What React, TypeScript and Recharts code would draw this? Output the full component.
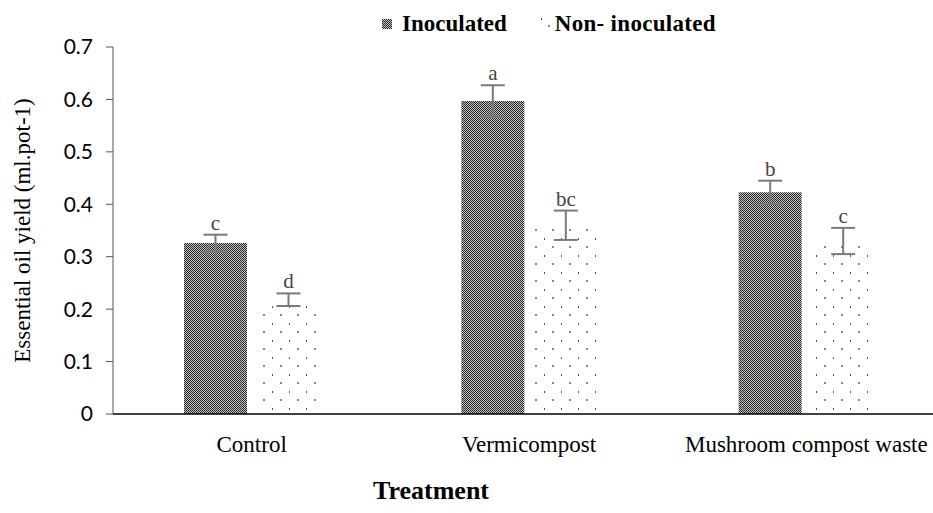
import { BarChart, Bar, XAxis, YAxis, ErrorBar, LabelList } from "recharts"

const categories = ["Control", "Vermicompost", "Mushroom compost waste"]
const inoculated = [0.326, 0.597, 0.423]
const nonInoculated = [0.218, 0.36, 0.33]
const inoculatedErr = [0.016, 0.03, 0.022]
const nonInoculatedErr = [0.012, 0.028, 0.025]
const inoculatedLetters = ["c", "a", "b"]
const nonInoculatedLetters = ["d", "bc", "c"]
const yTicks = [0, 0.1, 0.2, 0.3, 0.4, 0.5, 0.6, 0.7]

const data = categories.map((name, i) => ({
  name,
  inoc: inoculated[i],
  inocErr: inoculatedErr[i],
  inocLetter: inoculatedLetters[i],
  non: nonInoculated[i],
  nonErr: nonInoculatedErr[i],
  nonLetter: nonInoculatedLetters[i],
}))

const serif = "'Liberation Serif', 'Times New Roman', serif"
const sans = "'Lato', 'Open Sans', sans-serif"

// letter above the error bar
function letterLabel(errs: number[], values: number[]) {
  return (props: any) => {
    const { x, y, width, height, value, index } = props
    const errPx = (errs[index] / values[index]) * height
    return (
      <text x={x + width / 2} y={y - errPx - 5} textAnchor="middle" fontFamily={serif} fontSize={21} fill="#444">
        {value}
      </text>
    )
  }
}

function Patterns() {
  return (
    <defs>
      <pattern id="checker" width="2" height="2" patternUnits="userSpaceOnUse">
        <rect width="2" height="2" fill="#c4c4c4" />
        <rect x="0" y="0" width="1" height="1" fill="#262626" />
        <rect x="1" y="1" width="1" height="1" fill="#262626" />
      </pattern>
      <pattern id="dots" width="17" height="17" patternUnits="userSpaceOnUse">
        <rect width="17" height="17" fill="#ffffff" />
        <rect x="8" y="8" width="2" height="2" fill="#8a8a8a" />
        <rect x="0" y="0" width="1" height="2" fill="#555" />
      </pattern>
    </defs>
  )
}

export default function App() {
  return (
    <div style={{ position: "absolute", left: 0, top: 0, width: 933, height: 513, overflow: "hidden", background: "#fff" }}>
      <BarChart
        width={950}
        height={513}
        data={data}
        margin={{ top: 47, right: 5, left: 0, bottom: 39 }}
        barSize={63}
        barGap={10}
      >
        <Patterns />
        <XAxis
          dataKey="name"
          height={60}
          tickLine={false}
          axisLine={{ stroke: "#000", strokeWidth: 1.5 }}
          tickMargin={16}
          tick={{ fontFamily: serif, fontSize: 23, fill: "#000" }}
        />
        <YAxis
          width={113}
          domain={[0, 0.7]}
          ticks={yTicks}
          tickSize={7}
          tickMargin={13}
          axisLine={{ stroke: "#555" }}
          tickLine={{ stroke: "#555" }}
          tick={{ fontFamily: sans, fontSize: 21, fill: "#000" }}
          label={{
            value: "Essential oil yield (ml.pot-1)",
            angle: -90,
            position: "insideLeft",
            offset: 22,
            style: { textAnchor: "middle", fontFamily: serif, fontSize: 23, fill: "#000" },
          }}
        />
        <Bar dataKey="inoc" fill="url(#checker)" isAnimationActive={false}>
          <ErrorBar dataKey="inocErr" width={12} stroke="#7a7a7a" strokeWidth={2} direction="y" />
          <LabelList dataKey="inocLetter" content={letterLabel(inoculatedErr, inoculated)} />
        </Bar>
        <Bar dataKey="non" fill="url(#dots)" isAnimationActive={false}>
          <ErrorBar dataKey="nonErr" width={12} stroke="#7a7a7a" strokeWidth={2} direction="y" />
          <LabelList dataKey="nonLetter" content={letterLabel(nonInoculatedErr, nonInoculated)} />
        </Bar>
      </BarChart>

      <div
        style={{
          position: "absolute",
          left: 382,
          top: 11,
          display: "flex",
          alignItems: "center",
          fontFamily: serif,
          fontWeight: "bold",
          fontSize: 23,
          color: "#000",
        }}
      >
        <svg width={10} height={10} style={{ marginRight: 10 }}>
          <Patterns />
          <rect width={10} height={10} fill="url(#checker)" />
        </svg>
        <span>Inoculated</span>
        <svg width={12} height={14} style={{ marginLeft: 33, marginRight: 3 }}>
          <rect x={1} y={1} width={1} height={2} fill="#555" />
          <rect x={8} y={8} width={2} height={2} fill="#8a8a8a" />
        </svg>
        <span style={{ letterSpacing: 0.3 }}>Non- inoculated</span>
      </div>

      <div
        style={{
          position: "absolute",
          left: 373,
          top: 476,
          fontFamily: serif,
          fontWeight: "bold",
          fontSize: 26,
          lineHeight: "30px",
          color: "#000",
        }}
      >
        Treatment
      </div>
    </div>
  )
}
